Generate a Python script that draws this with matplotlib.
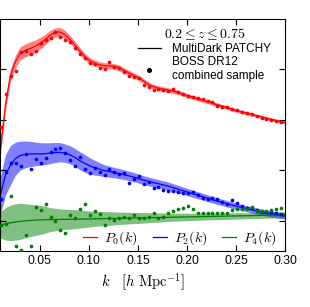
import matplotlib

matplotlib.use("Agg")
import matplotlib.pyplot as plt
from matplotlib.lines import Line2D

plt.rcParams.update(
    {
        "font.family": ["Liberation Sans", "DejaVu Sans"],
        "mathtext.fontset": "cm",
        "font.size": 8.7,
        "xtick.direction": "in",
        "ytick.direction": "in",
        "xtick.top": True,
        "ytick.right": True,
        "xtick.major.size": 4,
        "ytick.major.size": 4,
        "axes.linewidth": 0.8,
    }
)

# bin centres of the measured multipoles
K_DATA = [
    0.011, 0.016, 0.021, 0.026, 0.031, 0.036, 0.041, 0.046, 0.051, 0.056,
    0.061, 0.066, 0.071, 0.076, 0.081, 0.086, 0.091, 0.096, 0.101, 0.106,
    0.111, 0.116, 0.121, 0.126, 0.131, 0.136, 0.141, 0.146, 0.151, 0.156,
    0.161, 0.166, 0.171, 0.176, 0.181, 0.186, 0.191, 0.196, 0.201, 0.206,
    0.211, 0.216, 0.221, 0.226, 0.231, 0.236, 0.241, 0.246, 0.251, 0.256,
    0.261, 0.266, 0.271, 0.276, 0.281, 0.286, 0.291, 0.296,
]
# k-grid of the mock mean and its spread
K_MOCK = [
    0.010, 0.015, 0.020, 0.025, 0.030, 0.035, 0.040, 0.045, 0.050, 0.055,
    0.060, 0.065, 0.070, 0.075, 0.080, 0.085, 0.090, 0.095, 0.100, 0.105,
    0.110, 0.115, 0.120, 0.125, 0.130, 0.135, 0.140, 0.145, 0.150, 0.155,
    0.160, 0.165, 0.170, 0.175, 0.180, 0.185, 0.190, 0.195, 0.200, 0.205,
    0.210, 0.215, 0.220, 0.225, 0.230, 0.235, 0.240, 0.245, 0.250, 0.255,
    0.260, 0.265, 0.270, 0.275, 0.280, 0.285, 0.290, 0.295, 0.300,
]

P0_DATA = [
    934, 1257, 1436, 1485, 1670, 1683, 1650, 1683, 1759, 1792,
    1809, 1874, 1825, 1792, 1769, 1710, 1650, 1611, 1567, 1551,
    1512, 1502, 1571, 1528, 1512, 1478, 1436, 1429, 1419, 1346,
    1324, 1297, 1307, 1292, 1287, 1307, 1272, 1257, 1242, 1228,
    1218, 1203, 1188, 1173, 1143, 1129, 1124, 1109, 1094, 1079,
    1064, 1054, 1035, 1020, 1005, 995, 990, 975,
]
P2_DATA = [
    215, 488, 571, 571, 545, 660, 515, 614, 571, 627,
    686, 710, 726, 676, 604, 545, 631, 515, 472, 528,
    482, 455, 515, 482, 465, 472, 373, 413, 446, 366,
    389, 324, 340, 307, 300, 297, 290, 277, 274, 282,
    252, 225, 218, 231, 218, 188, 163, 208, 175, 151,
    132, 126, 109, 92, 92, 86, 76, 66,
]
P4_DATA = [
    -40, -30, 248, -254, -290, -139, -245, 136, 109, 171,
    37, 0, -89, -122, 59, 27, 116, 168, 59, 99,
    69, -40, 27, 10, 27, 37, 27, 59, 33, 27,
    37, 76, 27, 37, 76, 99, 114, 129, 144, 116,
    76, 76, 76, 76, 76, 82, 82, 109, 116, 116,
    116, 136, 102, 102, 102, 109, 116, 126,
]

P0_MOCK = [
    723, 1148, 1436, 1574, 1658, 1688, 1708, 1728, 1757, 1792,
    1836, 1866, 1873, 1851, 1807, 1752, 1693, 1638, 1594, 1566,
    1549, 1539, 1535, 1532, 1520, 1495, 1470, 1445, 1421, 1391,
    1356, 1332, 1317, 1307, 1297, 1287, 1275, 1259, 1242, 1228,
    1213, 1198, 1183, 1168, 1153, 1139, 1124, 1109, 1094, 1081,
    1069, 1057, 1044, 1032, 1020, 1008, 997, 985, 973,
]
P2_MOCK = [
    257, 455, 549, 614, 647, 658, 663, 663, 663, 665,
    670, 676, 680, 673, 658, 634, 601, 574, 549, 530,
    515, 500, 490, 480, 470, 460, 448, 436, 421, 406,
    393, 381, 370, 358, 347, 332, 317, 302, 287, 272,
    257, 243, 228, 213, 198, 185, 172, 158, 146, 134,
    122, 111, 100, 89, 79, 69, 62, 54, 48,
]
P4_MOCK = [
    -40, -30, -20, -12, -5, 0, 4, 7, 9, 11,
    12, 13, 14, 15, 16, 16, 17, 18, 19, 20,
    21, 22, 23, 24, 25, 26, 27, 28, 29, 30,
    31, 32, 33, 34, 35, 36, 37, 38, 39, 40,
    41, 42, 43, 44, 45, 46, 47, 48, 49, 50,
    51, 52, 53, 54, 55, 56, 57, 58, 60,
]

P0_SIGMA = [
    60, 60, 60, 62, 65, 65, 65, 62, 58, 52,
    48, 45, 44, 42, 40, 38, 36, 34, 32, 30,
    30, 29, 29, 28, 28, 27, 27, 26, 26, 25,
    25, 24, 24, 23, 23, 22, 22, 21, 21, 20,
    20, 20, 19, 19, 19, 18, 18, 18, 17, 17,
    17, 16, 16, 16, 16, 15, 15, 15, 15,
]
P2_SIGMA = [
    190, 200, 195, 165, 143, 133, 125, 119, 112, 108,
    104, 100, 96, 92, 89, 89, 89, 89, 82, 75,
    66, 60, 55, 52, 50, 48, 47, 46, 45, 44,
    43, 42, 41, 40, 40, 39, 38, 37, 36, 36,
    35, 34, 34, 33, 33, 32, 32, 31, 31, 31,
    30, 30, 30, 30, 30, 30, 30, 30, 30,
]
P4_SIGMA = [
    130, 160, 175, 180, 178, 170, 160, 152, 145, 135,
    120, 112, 105, 100, 98, 95, 90, 85, 80, 75,
    72, 70, 68, 65, 62, 60, 58, 56, 54, 52,
    50, 48, 46, 44, 42, 40, 39, 38, 37, 36,
    35, 35, 34, 34, 33, 33, 32, 32, 31, 31,
    30, 30, 30, 30, 29, 29, 28, 28, 28,
]

MULTIPOLES = [
    ("$P_0(k)$", P0_DATA, P0_MOCK, P0_SIGMA, "#ff0000"),
    ("$P_2(k)$", P2_DATA, P2_MOCK, P2_SIGMA, "#0000ff"),
    ("$P_4(k)$", P4_DATA, P4_MOCK, P4_SIGMA, "#008000"),
]

fig = plt.figure(figsize=(3.10, 3.07), dpi=100)
ax = fig.add_axes([0.0016, 0.182, 0.918, 0.756])

handles = []
for label, data, mock, sigma, color in MULTIPOLES:
    lo = [m - s for m, s in zip(mock, sigma)]
    hi = [m + s for m, s in zip(mock, sigma)]
    ax.fill_between(K_MOCK, lo, hi, color=color, alpha=0.5, linewidth=0)
    ax.plot(K_MOCK, mock, color=color, linewidth=0.9)
    ax.scatter(K_DATA, data, s=7, color=color, linewidths=0, zorder=3)
    handles.append(Line2D([], [], color=color, linewidth=0.9, label=label))

ax.set_xlim(0.01, 0.30)
ax.set_ylim(-300, 2000)
ax.set_xticks([0.05, 0.10, 0.15, 0.20, 0.25, 0.30])
ax.set_xticklabels(["0.05", "0.10", "0.15", "0.20", "0.25", "0.30"])
ax.set_yticks([0, 500, 1000, 1500])
ax.tick_params(labelleft=False, pad=3)
ax.set_xlabel(r"$k\quad[h\ \mathrm{Mpc}^{-1}]$", fontsize=10.5, labelpad=3)

top = ax.legend(
    handles=[
        Line2D([], [], color="black", linewidth=0.9, label="MultiDark PATCHY"),
        Line2D([], [], color="black", linestyle="none", marker="o", markersize=2.6,
               label="BOSS DR12\ncombined sample"),
    ],
    title=r"$0.2 \leq z \leq 0.75$",
    title_fontsize=10,
    loc="upper right",
    bbox_to_anchor=(0.975, 1.0),
    frameon=False,
    fontsize=8.5,
    handlelength=2.0,
    handletextpad=0.9,
    labelspacing=0.1,
    borderaxespad=0.2,
)
ax.add_artist(top)

ax.legend(
    handles=handles,
    loc="center",
    bbox_to_anchor=(0.63, 0.056),
    ncol=3,
    frameon=False,
    fontsize=10,
    handlelength=1.0,
    handletextpad=0.5,
    columnspacing=1.1,
    borderpad=0,
)

fig.savefig("out.png", dpi=100)
